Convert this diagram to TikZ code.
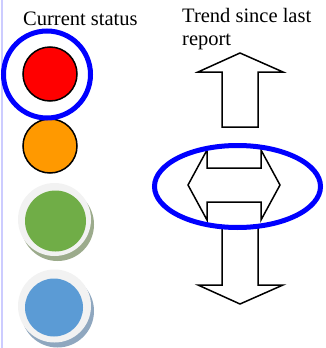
\documentclass[tikz,border=0pt]{standalone}
\usepackage{fontspec}
\setmainfont{Liberation Serif}
\usetikzlibrary{shapes.geometric}
\definecolor{ringblue}{RGB}{0,0,255}
\definecolor{lamporange}{RGB}{255,153,0}
\definecolor{lampgreen}{RGB}{112,173,71}
\definecolor{lampblue}{RGB}{91,155,213}
\definecolor{bezel}{RGB}{242,242,242}
\definecolor{greenshade}{RGB}{156,171,140}
\definecolor{blueshade}{RGB}{143,167,191}
\definecolor{edgeline}{RGB}{204,204,255}
\tikzset{
  label text/.style={inner sep=0pt, font=\fontsize{20.5}{23}\selectfont},
  flat lamp/.style={circle, draw=black, line width=1.5pt, minimum size=54pt, inner sep=0pt},
  bezel ring/.style={circle, fill=bezel, minimum size=73pt, inner sep=0pt},
  shade ring/.style={circle, minimum size=73pt, inner sep=0pt},
  glossy lamp/.style={circle, inner sep=0pt},
  highlight/.style={draw=ringblue, line width=5pt},
  trend arrow/.style={draw=black, fill=white, line width=1.5pt, line join=miter},
}
\begin{document}
\begin{tikzpicture}[x=1pt,y=-1pt]
\useasboundingbox (0,0) rectangle (325,348);
% page edge
\draw[edgeline, line width=2pt] (1.5,0) -- (1.5,348);

% headings
\node[label text, anchor=base west] (cur) at (23,25) {Current status};
\node[label text, anchor=north west, align=left] (trend) at (182,8) {Trend since last\\report};

% status lamps
\node[flat lamp, fill=red] (red) at (50,74) {};
\node[flat lamp, fill=lamporange] (orange) at (50,146) {};

\node[shade ring, fill=greenshade] (gshade) at (57.5,224.5) {};
\node[bezel ring] (gbezel) at (54.5,219.5) {};
\node[glossy lamp, fill=lampgreen, minimum size=61pt] (green) at (55.5,221) {};

\node[shade ring, fill=blueshade] (bshade) at (57.5,311) {};
\node[bezel ring] (bbezel) at (54.5,306) {};
\node[glossy lamp, fill=lampblue, minimum size=58pt] (blue) at (54,307.5) {};

% current status marker
\node[circle, highlight, minimum size=87pt, inner sep=0pt] (cmark) at (47,74.5) {};

% trend arrows
\draw[trend arrow] (240,53) -- (283,72) -- (258,72) -- (258,127) -- (222,127)
  -- (222,72) -- (198,72) -- cycle;
\draw[trend arrow] (222,228) -- (258,228) -- (258,285) -- (283,285) -- (240,304)
  -- (198,285) -- (222,285) -- cycle;
\draw[trend arrow] (188,185) -- (207,150) -- (207,168) -- (261,168) -- (261,150)
  -- (280,185) -- (261,220) -- (261,202) -- (207,202) -- (207,220) -- cycle;

% trend marker
\node[ellipse, highlight, minimum width=166pt, minimum height=82pt, inner sep=0pt] (tmark) at (237.5,186.5) {};
\end{tikzpicture}
\end{document}
